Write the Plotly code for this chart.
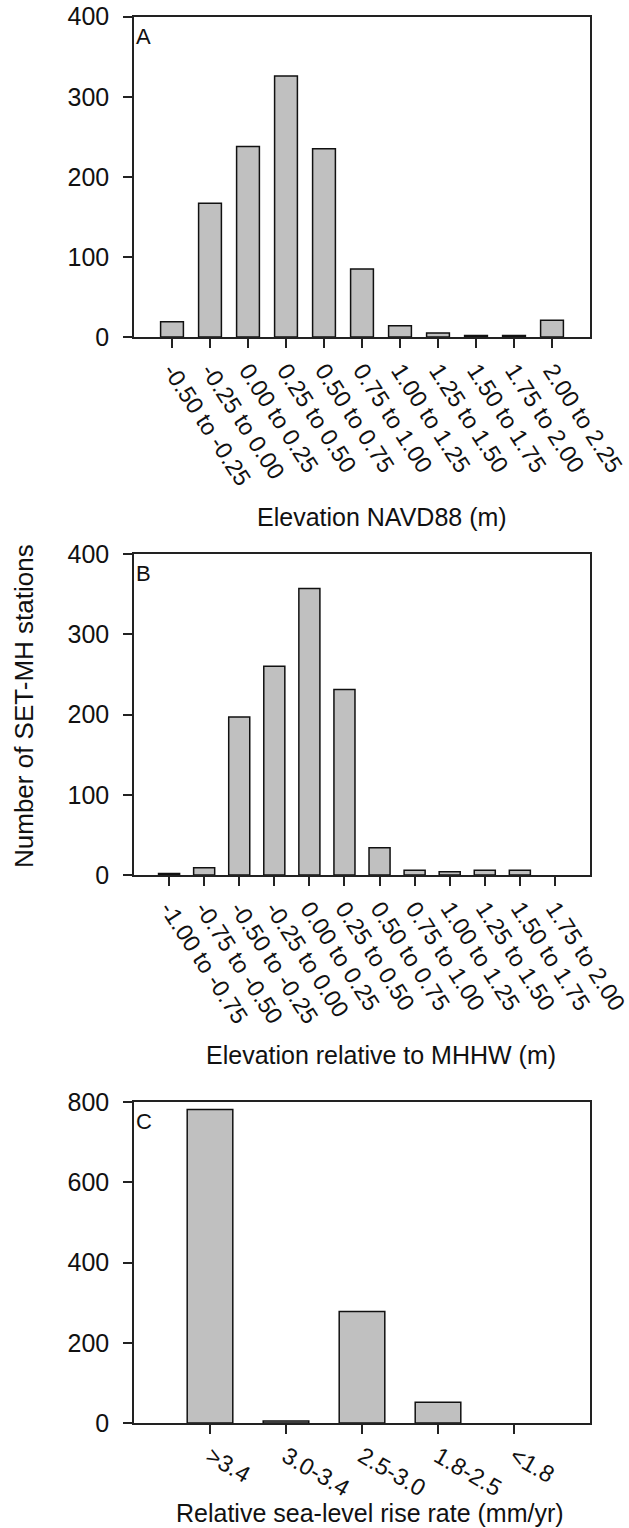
import plotly.graph_objects as go

# ---- data ----
navd_bins = ["-0.50 to -0.25", "-0.25 to 0.00", "0.00 to 0.25", "0.25 to 0.50",
             "0.50 to 0.75", "0.75 to 1.00", "1.00 to 1.25", "1.25 to 1.50",
             "1.50 to 1.75", "1.75 to 2.00", "2.00 to 2.25"]
navd_counts = [19, 167, 238, 326, 235, 85, 14, 5, 2, 2, 21]

mhhw_bins = ["-1.00 to -0.75", "-0.75 to -0.50", "-0.50 to -0.25", "-0.25 to 0.00",
             "0.00 to 0.25", "0.25 to 0.50", "0.50 to 0.75", "0.75 to 1.00",
             "1.00 to 1.25", "1.25 to 1.50", "1.50 to 1.75", "1.75 to 2.00"]
mhhw_counts = [2, 9, 197, 260, 357, 231, 34, 6, 4, 6, 6, 0]

slr_bins = [">3.4", "3.0-3.4", "2.5-3.0", "1.8-2.5", "<1.8"]
slr_counts = [782, 5, 278, 52, 0]

panel_letters = ["A", "B", "C"]
x_titles = ["Elevation NAVD88 (m)", "Elevation relative to MHHW (m)",
            "Relative sea-level rise rate (mm/yr)"]
y_title = "Number of SET-MH stations"

W, H = 629, 1528
FONT = "Liberation Sans, Arial, sans-serif"
AX = "#222222"

def py(px):  # pixel row -> paper fraction
    return 1 - px / H

x_dom = [134 / W, 590 / W]
y_doms = [[py(337), py(16.7)], [py(875), py(554)], [py(1423), py(1102.3)]]
y_ranges = [[0, 400], [0, 400], [0, 800]]
y_dticks = [100, 100, 200]
angles = [57, 57, 30]

fig = go.Figure()
datasets = [(navd_bins, navd_counts), (mhhw_bins, mhhw_counts), (slr_bins, slr_counts)]
for i, (cats, vals) in enumerate(datasets):
    sfx = "" if i == 0 else str(i + 1)
    fig.add_trace(go.Bar(
        x=cats, y=vals, xaxis="x" + sfx, yaxis="y" + sfx, width=0.6,
        marker=dict(color="#c0c0c0",
                    line=dict(color="#111111", width=[1.5 if v > 0 else 0 for v in vals])),
        showlegend=False, hoverinfo="skip"))
    fig.layout["xaxis" + sfx] = dict(
        domain=x_dom, anchor="y" + sfx, type="category",
        range=[-1, len(cats)], tickmode="array", tickvals=cats, ticktext=cats,
        tickangle=angles[i], ticks="outside", ticklen=9, tickwidth=1.5, tickcolor=AX,
        showline=True, linecolor=AX, linewidth=1.5, mirror=True,
        showgrid=False, zeroline=False, automargin=False,
        tickfont=dict(family=FONT, size=23.5, color="#111111"))
    fig.layout["yaxis" + sfx] = dict(
        domain=y_doms[i], anchor="x" + sfx, range=y_ranges[i],
        tickmode="linear", tick0=0, dtick=y_dticks[i],
        ticks="outside", ticklen=9, tickwidth=1.5, tickcolor=AX,
        showline=True, linecolor=AX, linewidth=1.5, mirror=True,
        showgrid=False, zeroline=False, automargin=False, ticklabelstandoff=9,
        tickfont=dict(family=FONT, size=25, color="#111111"))
    # panel letter
    fig.add_annotation(x=134 / W, y=y_doms[i][1] - 5 / H, xref="paper", yref="paper",
                       text=panel_letters[i], showarrow=False, xanchor="left", yanchor="top",
                       font=dict(family=FONT, size=22, color="#111111"))

# x-axis titles
for txt, (cx, cy) in zip(x_titles, [(381.7, 517), (381, 1055), (369.6, 1513)]):
    fig.add_annotation(x=cx / W, y=py(cy), xref="paper", yref="paper", text=txt,
                       showarrow=False, xanchor="center", yanchor="middle",
                       font=dict(family=FONT, size=25, color="#111111"))

# y-axis title
fig.add_annotation(x=24 / W, y=py(706), xref="paper", yref="paper", text=y_title,
                   textangle=-90, showarrow=False, xanchor="center", yanchor="middle",
                   font=dict(family=FONT, size=26, color="#111111"))

fig.update_layout(width=W, height=H, margin=dict(l=0, r=0, t=0, b=0),
                  paper_bgcolor="white", plot_bgcolor="white", bargap=0.4,
                  hovermode=False)
fig.write_html("out.html", config={"displayModeBar": False},
               post_script="document.body.style.margin='0';")
